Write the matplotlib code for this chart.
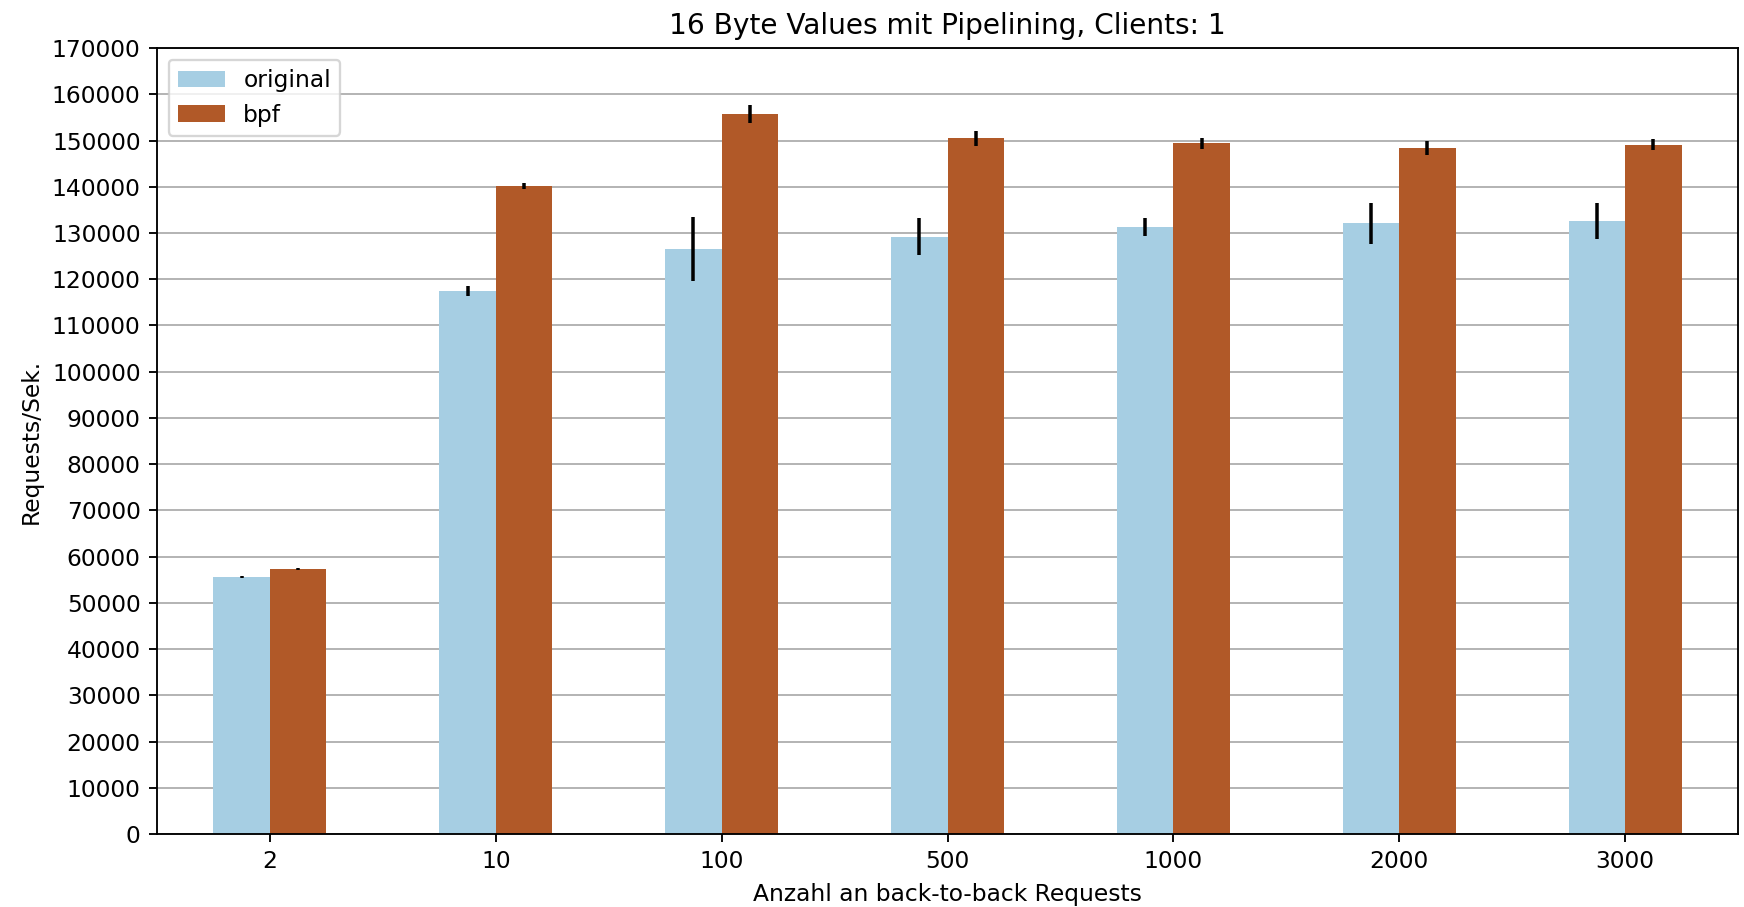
import numpy as np
import matplotlib
matplotlib.use('Agg')
import matplotlib.pyplot as plt


# Anzahl an back-to-back Requests (Pipelining)
requests = ['2', '10', '100', '500', '1000', '2000', '3000']

# Mittelwerte Requests/Sek.
original = [55500, 117400, 126600, 129200, 131300, 132100, 132500]
bpf = [57300, 140200, 155700, 150500, 149400, 148300, 149100]

# Standardabweichungen
original_err = [200, 1100, 6900, 4000, 2050, 4400, 3900]
bpf_err = [200, 650, 2000, 1600, 1200, 1500, 1150]

cmap = plt.get_cmap('Paired')
c_orig = cmap(0)
c_bpf = cmap(11)

x = np.arange(len(requests))
w = 0.25

fig, ax = plt.subplots(figsize=(1744 / 168, 907 / 168), dpi=168)
fig.subplots_adjust(left=0.09, right=0.9966, top=0.947, bottom=0.0805)

ax.bar(x - w / 2, original, w, yerr=original_err, color=c_orig,
       label='original', error_kw=dict(ecolor='black', elinewidth=1.5))
ax.bar(x + w / 2, bpf, w, yerr=bpf_err, color=c_bpf,
       label='bpf', error_kw=dict(ecolor='black', elinewidth=1.5))

ax.set_xticks(x)
ax.set_xticklabels(requests)
ax.set_xlim(-0.5, len(requests) - 0.5)
ax.set_ylim(0, 170000)
ax.set_yticks(np.arange(0, 170001, 10000))
ax.set_axisbelow(True)
ax.grid(axis='y')

ax.set_title('16 Byte Values mit Pipelining, Clients: 1')
ax.set_xlabel('Anzahl an back-to-back Requests')
ax.set_ylabel('Requests/Sek.')
ax.legend(loc='upper left')

fig.savefig('out.png', dpi=168)
